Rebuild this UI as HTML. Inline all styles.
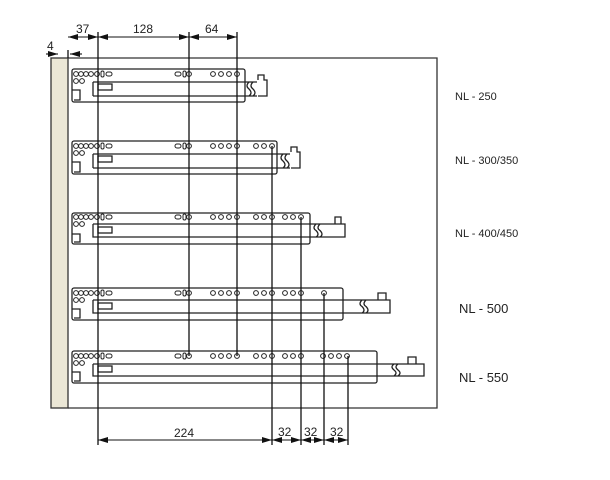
<!DOCTYPE html>
<html><head><meta charset="utf-8"><style>
body{margin:0;background:#fff}
svg{display:block}
text{font-family:"Liberation Sans",sans-serif;fill:#222}
</style></head><body>
<svg width="610" height="480" viewBox="0 0 610 480" xmlns="http://www.w3.org/2000/svg">
<defs>
<marker id="a" viewBox="0 0 10 6" refX="10" refY="3" markerWidth="11" markerHeight="6" markerUnits="userSpaceOnUse" orient="auto-start-reverse"><path d="M0,0L10,3L0,6z" fill="#111"/></marker>
<g id="lh" fill="none" stroke="#222" stroke-width="1">
<circle cx="76" cy="0" r="2.4"/><circle cx="81" cy="0" r="2.4"/><circle cx="86" cy="0" r="2.4"/><circle cx="91" cy="0" r="2.4"/><circle cx="97" cy="0" r="2.4"/>
<rect x="101" y="-3" width="3" height="6" rx="1.5"/><rect x="106" y="-2" width="6" height="4" rx="2"/>
<circle cx="76" cy="7" r="2.4"/><circle cx="82" cy="7" r="2.4"/>
<rect x="175" y="-2" width="6" height="4" rx="2"/><rect x="183" y="-3" width="3" height="6" rx="1.5"/><circle cx="189" cy="0" r="2.4"/>
<circle cx="213" cy="0" r="2.4"/><circle cx="221" cy="0" r="2.4"/><circle cx="229" cy="0" r="2.4"/><circle cx="237" cy="0" r="2.4"/>
</g>
<g id="h2" fill="none" stroke="#222" stroke-width="1"><circle cx="256" cy="0" r="2.4"/><circle cx="264" cy="0" r="2.4"/><circle cx="272" cy="0" r="2.4"/></g>
<g id="h3" fill="none" stroke="#222" stroke-width="1"><circle cx="285" cy="0" r="2.4"/><circle cx="293" cy="0" r="2.4"/><circle cx="301" cy="0" r="2.4"/></g>
</defs>
<rect x="51" y="58" width="17" height="350" fill="#ebe7d6" stroke="#333" stroke-width="1.3"/>
<path d="M68,58H437V408H68" fill="none" stroke="#333" stroke-width="1.3"/>
<g fill="none" stroke="#222" stroke-width="1.3">
<rect x="72" y="69" width="173" height="33" rx="2"/>
<path d="M93,82H257M93,96H257M93,82V96M249,82q-4,4 0,7q4,4 0,7M253,82q-4,4 0,7q4,4 0,7M258,80V75H264V80H267V96H258"/>
<rect x="98" y="84" width="14" height="6"/>
<path d="M72,90H80V100H74"/>
<rect x="72" y="141" width="205" height="33" rx="2"/>
<path d="M93,154H290M93,168H290M93,154V168M283,154q-4,4 0,7q4,4 0,7M287,154q-4,4 0,7q4,4 0,7M291,152V147H297V152H300V168H291"/>
<rect x="98" y="156" width="14" height="6"/>
<path d="M72,162H80V172H74"/>
<rect x="72" y="213" width="238" height="31" rx="2"/>
<path d="M93,224H345V237H93V224M316,224q-4,4 0,6.5q4,4 0,6.5M320,224q-4,4 0,6.5q4,4 0,6.5M335,224V217H341V224"/>
<rect x="98" y="227" width="14" height="6"/>
<path d="M72,234H80V242H74"/>
<rect x="72" y="288" width="271" height="32" rx="2"/>
<path d="M93,300H390V313H93V300M362,300q-4,4 0,6.5q4,4 0,6.5M366,300q-4,4 0,6.5q4,4 0,6.5M378,300V293H386V300"/>
<rect x="98" y="303" width="14" height="6"/>
<path d="M72,309H80V318H74"/>
<rect x="72" y="351" width="305" height="32" rx="2"/>
<path d="M93,364H424V376H93V364M394,364q-4,3 0,6q4,3 0,6M398,364q-4,3 0,6q4,3 0,6M408,364V357H416V364"/>
<rect x="98" y="366" width="14" height="6"/>
<path d="M72,372H80V381H74"/>
</g>
<use href="#lh" y="74"/>
<use href="#lh" y="146"/><use href="#h2" y="146"/>
<use href="#lh" y="217"/><use href="#h2" y="217"/><use href="#h3" y="217"/>
<use href="#lh" y="293"/><use href="#h2" y="293"/><use href="#h3" y="293"/>
<circle cx="324" cy="293" r="2.4" fill="none" stroke="#222"/>
<use href="#lh" y="356"/><use href="#h2" y="356"/><use href="#h3" y="356"/>
<g fill="none" stroke="#222"><circle cx="323" cy="356" r="2.4"/><circle cx="331" cy="356" r="2.4"/><circle cx="339" cy="356" r="2.4"/><circle cx="347" cy="356" r="2.4"/></g>
<g stroke="#111" stroke-width="1.3">
<path d="M68,50V58M98,32V445M189,32V356M237,32V356M272,146V445M301,217V445M324,293V445M348,356V445"/>
</g>
<g stroke="#111" stroke-width="1.1" fill="none">
<path d="M68,37H98" marker-start="url(#a)" marker-end="url(#a)"/>
<path d="M98,37H189" marker-start="url(#a)" marker-end="url(#a)"/>
<path d="M189,37H237" marker-start="url(#a)" marker-end="url(#a)"/>
<path d="M46,54H58" marker-end="url(#a)"/>
<path d="M82,54H70" marker-end="url(#a)"/>
<path d="M98,440H272" marker-start="url(#a)" marker-end="url(#a)"/>
<path d="M272,440H301" marker-start="url(#a)" marker-end="url(#a)"/>
<path d="M301,440H324" marker-start="url(#a)" marker-end="url(#a)"/>
<path d="M324,440H348" marker-start="url(#a)" marker-end="url(#a)"/>
</g>
<g font-size="12">
<text x="76" y="33">37</text>
<text x="133" y="33">128</text>
<text x="205" y="33">64</text>
<text x="47" y="50">4</text>
<text x="174" y="437">224</text>
<text x="278" y="436">32</text>
<text x="304" y="436">32</text>
<text x="330" y="436">32</text>
</g>
<g font-size="11">
<text x="455" y="100">NL - 250</text>
<text x="455" y="164">NL - 300/350</text>
<text x="455" y="237">NL - 400/450</text>
</g>
<g font-size="13">
<text x="459" y="313">NL - 500</text>
<text x="459" y="382">NL - 550</text>
</g>
</svg>
</body></html>
